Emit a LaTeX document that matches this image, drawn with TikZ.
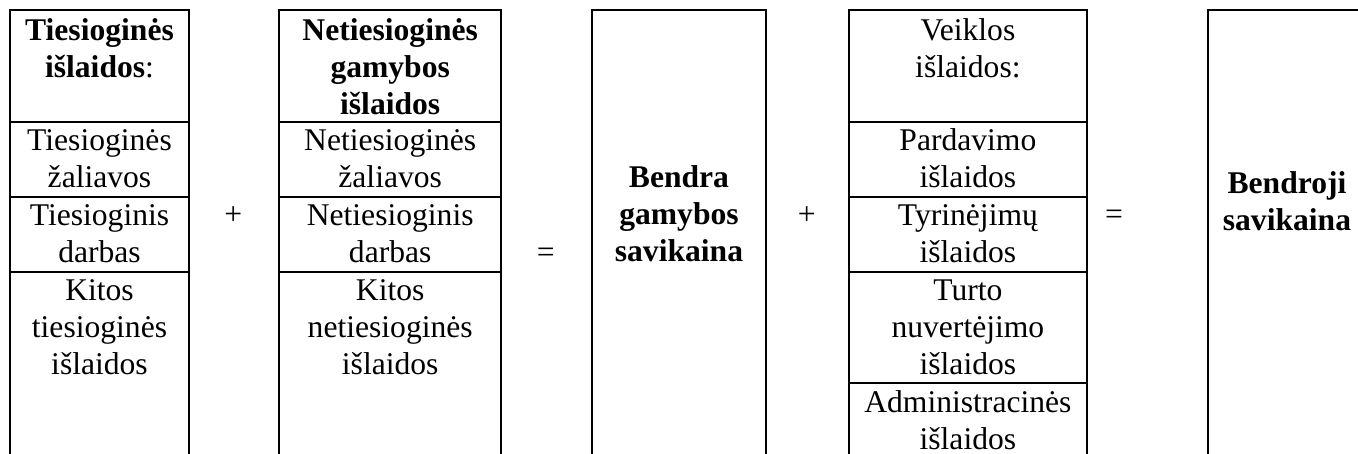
\documentclass[tikz,border=0pt]{standalone}
\usepackage{fontspec}
\setmainfont{Liberation Serif}
\begin{document}
\begin{tikzpicture}[x=0.375pt,y=-0.375pt,
  frame/.style={line width=0.75pt, line join=miter},
  txt/.style={anchor=north, inner sep=0pt, align=center, font=\fontsize{11.85}{13.875}\selectfont},
  op/.style={anchor=base, inner sep=0pt, font=\fontsize{11.85}{13.875}\selectfont}]
\useasboundingbox (0,0) rectangle (1358,454);
\clip (0,0) rectangle (1358,454);
% box 1
\draw[frame] (10.3,470) -- (10.3,10.3) -- (188.7,10.3) -- (188.7,470);
\draw[frame] (10.3,121.8) -- (188.7,121.8);
\draw[frame] (10.3,196.7) -- (188.7,196.7);
\draw[frame] (10.3,271.7) -- (188.7,271.7);
% box 2
\draw[frame] (279.3,470) -- (279.3,10.3) -- (501,10.3) -- (501,470);
\draw[frame] (279.3,121.8) -- (501,121.8);
\draw[frame] (279.3,196.7) -- (501,196.7);
\draw[frame] (279.3,271.7) -- (501,271.7);
% box 3
\draw[frame] (592,470) -- (592,10.3) -- (766,10.3) -- (766,470);
% box 4
\draw[frame] (849,470) -- (849,10.3) -- (1086.7,10.3) -- (1086.7,470);
\draw[frame] (849,121.8) -- (1086.7,121.8);
\draw[frame] (849,196.7) -- (1086.7,196.7);
\draw[frame] (849,271.7) -- (1086.7,271.7);
\draw[frame] (849,382.7) -- (1086.7,382.7);
% box 5
\draw[frame] (1207.7,470) -- (1207.7,10.3) -- (1380,10.3) -- (1380,470);

% box 1 texts
\node[txt] (a1) at (99.5,14.1) {\strut\textbf{Tiesioginės}\\\textbf{išlaidos}:};
\node[txt] (a2) at (99.5,124.1) {\strut Tiesioginės\\žaliavos};
\node[txt] (a3) at (99.5,199.1) {\strut Tiesioginis\\darbas};
\node[txt] (a4) at (99.5,274.1) {\strut Kitos\\tiesioginės\\išlaidos};
% box 2 texts
\node[txt] (b1) at (390.2,14.1) {\strut\textbf{Netiesioginės}\\\textbf{gamybos}\\\textbf{išlaidos}};
\node[txt] (b2) at (390.2,124.1) {\strut Netiesioginės\\žaliavos};
\node[txt] (b3) at (390.2,199.1) {\strut Netiesioginis\\darbas};
\node[txt] (b4) at (390.2,274.1) {\strut Kitos\\netiesioginės\\išlaidos};
% box 3 text
\node[txt] (c1) at (679,161.1) {\strut\textbf{Bendra}\\\textbf{gamybos}\\\textbf{savikaina}};
% box 4 texts
\node[txt] (d1) at (967.9,14.1) {\strut Veiklos\\išlaidos:};
\node[txt] (d2) at (967.9,124.1) {\strut Pardavimo\\išlaidos};
\node[txt] (d3) at (967.9,199.1) {\strut Tyrinėjimų\\išlaidos};
\node[txt] (d4) at (967.9,274.1) {\strut Turto\\nuvertėjimo\\išlaidos};
\node[txt] (d5) at (967.9,386.1) {\strut Administracinės\\išlaidos};
% box 5 text
\node[txt] (e1) at (1287,167.1) {\strut\textbf{Bendroji}\\\textbf{savikaina}};
% operators
\node[op] (p1) at (233.3,224.1) {+};
\node[op] (q1) at (545.7,262.6) {=};
\node[op] (p2) at (806.7,224.1) {+};
\node[op] (q2) at (1114,224.1) {=};
\end{tikzpicture}
\end{document}
